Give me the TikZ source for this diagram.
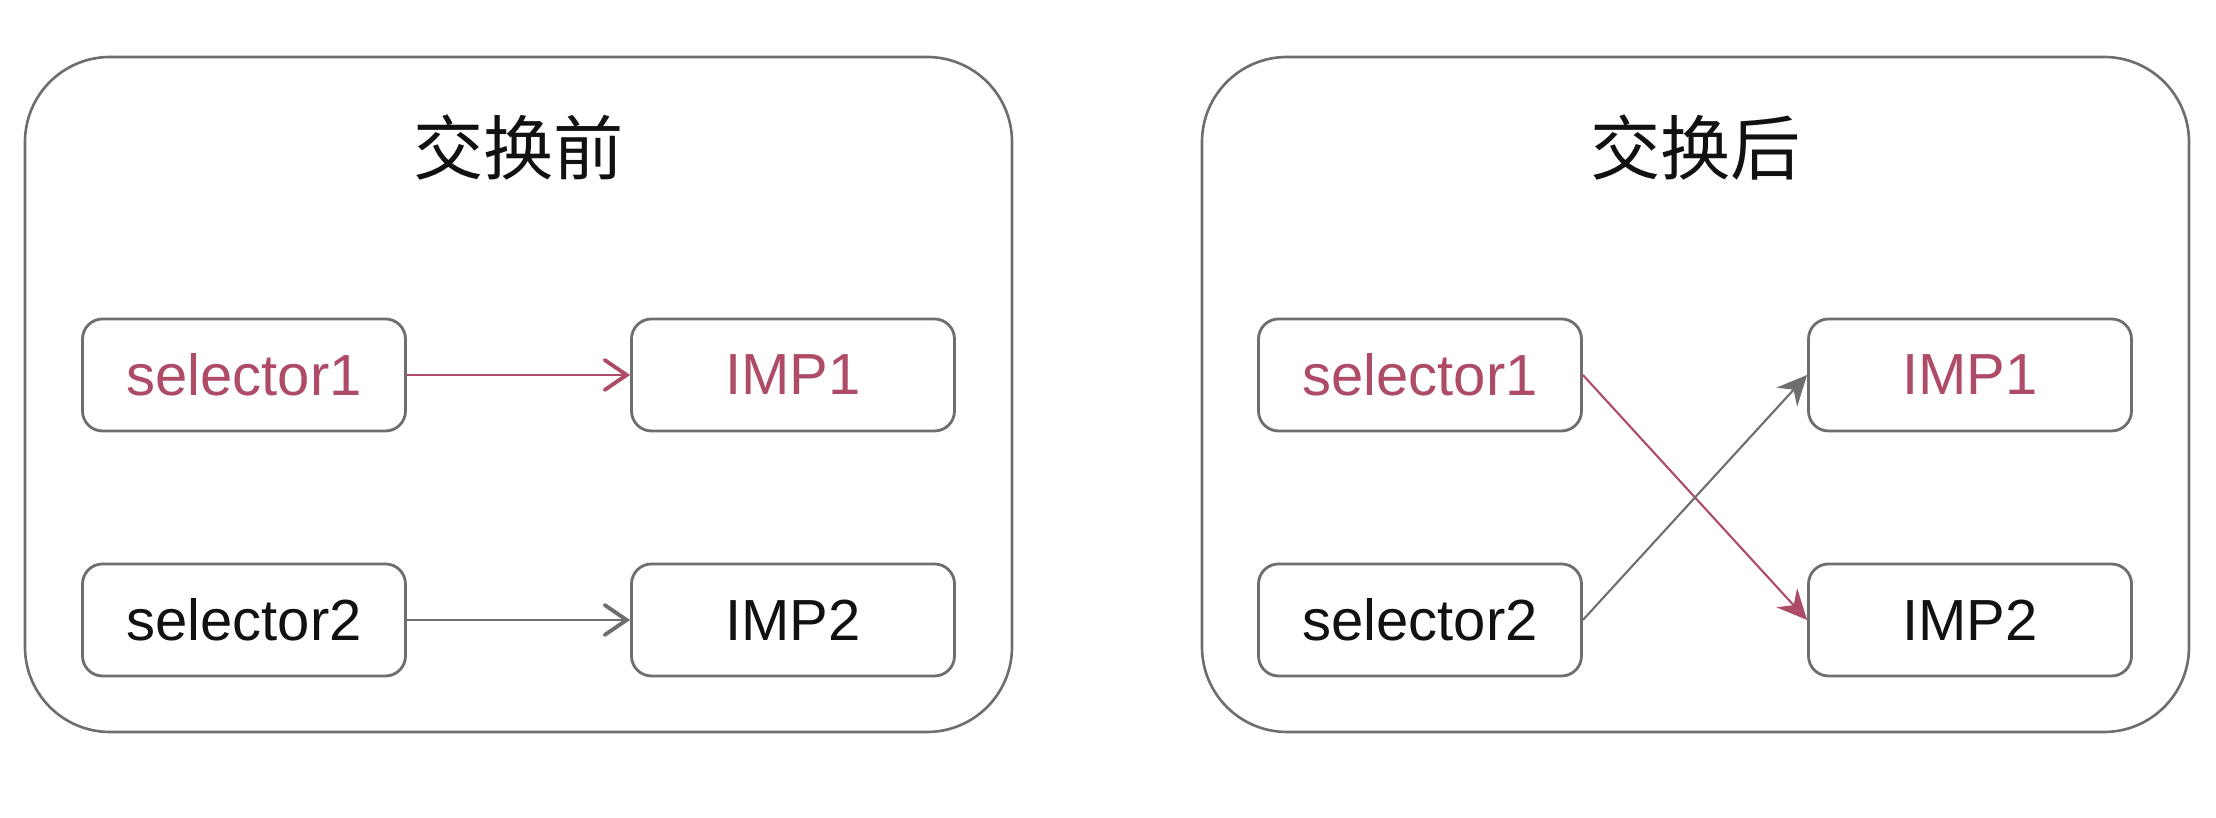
\documentclass[tikz,border=0pt]{standalone}
\usepackage{fontspec}
\setmainfont{Liberation Sans}
\newfontfamily\cjk{Noto Sans CJK SC}
\usetikzlibrary{arrows.meta, positioning}
\definecolor{SelRose}{HTML}{AE4B66}
\definecolor{Frame}{HTML}{6E6E6E}
\definecolor{Ink}{HTML}{111111}
\tikzset{
  panel/.style={draw=Frame, line width=0.75pt, rounded corners=0.85cm,
                minimum width=9.87cm, minimum height=6.75cm, inner sep=0pt},
  paneltitle/.style={font=\cjk\fontsize{20}{24}\selectfont, text=Ink},
  slot/.style={draw=Frame, line width=0.8pt, rounded corners=0.2cm,
               minimum width=3.23cm, minimum height=1.12cm, inner sep=0pt,
               font=\fontsize{16.5}{20}\selectfont, text=Ink},
  hot/.style={text=SelRose},
  openarrow/.style={-{Straight Barb[length=2.2mm, width=3mm, line width=1.1pt,
                    line cap=round]}, line width=0.6pt},
  swaparrow/.style={-{Stealth[length=3mm, width=2.8mm, inset=1mm]},
                    line width=0.6pt},
}
\begin{document}
\begin{tikzpicture}
  \useasboundingbox (0,0) rectangle (22.16,8.18);

  % before the swap
  \node[panel] (before) at (5.185, 4.235) {};
  \node[paneltitle] (beforetitle) at (5.185, 6.70) {交换前};
  \node[slot, hot] (sel1a) at (2.44, 4.43) {selector1};
  \node[slot, hot] (imp1a) at (7.93, 4.43) {IMP1};
  \node[slot] (sel2a) at (2.44, 1.98) {selector2};
  \node[slot] (imp2a) at (7.93, 1.98) {IMP2};
  \draw[openarrow, draw=SelRose] (sel1a) -- (imp1a);
  \draw[openarrow, draw=Frame] (sel2a) -- (imp2a);

  % after the swap
  \node[panel] (after) at (16.955, 4.235) {};
  \node[paneltitle] (aftertitle) at (16.955, 6.70) {交换后};
  \node[slot, hot] (sel1b) at (14.20, 4.43) {selector1};
  \node[slot, hot] (imp1b) at (19.70, 4.43) {IMP1};
  \node[slot] (sel2b) at (14.20, 1.98) {selector2};
  \node[slot] (imp2b) at (19.70, 1.98) {IMP2};
  \draw[swaparrow, draw=SelRose, fill=SelRose] (sel1b.east) -- (imp2b.west);
  \draw[swaparrow, draw=Frame, fill=Frame] (sel2b.east) -- (imp1b.west);
\end{tikzpicture}
\end{document}
